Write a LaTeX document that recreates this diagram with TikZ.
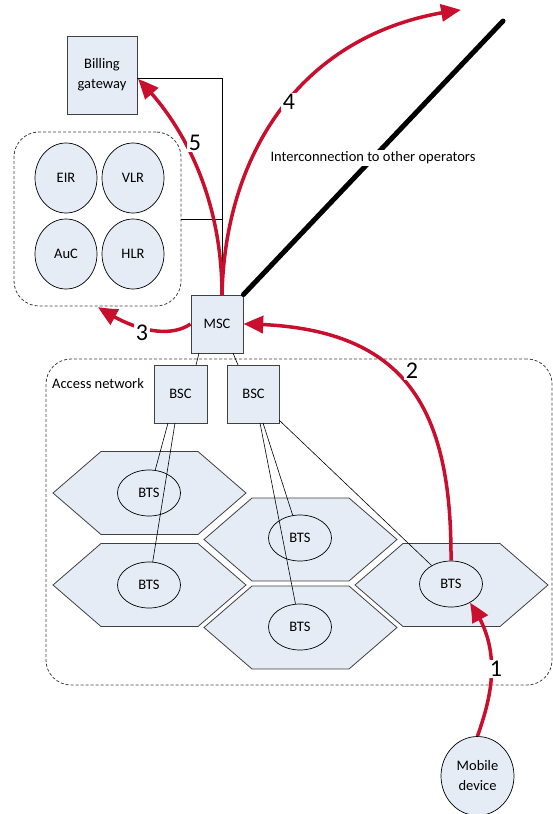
\documentclass[tikz,border=0pt]{standalone}
\usepackage{fontspec}
\setmainfont{Carlito}
\usetikzlibrary{arrows.meta,bending,shapes.geometric,calc}
\definecolor{boxfill}{HTML}{E6ECF6}
\definecolor{redarr}{HTML}{C8102E}
\definecolor{edge}{HTML}{404040}
\begin{document}
\begin{tikzpicture}[x=1pt,y=-1pt,
  every node/.style={font=\fontsize{14.5}{20}\selectfont},
  sq/.style={draw=edge,fill=boxfill,line width=0.9pt,inner sep=0pt,align=center},
  reg/.style={draw=black,fill=boxfill,ellipse,minimum width=62pt,minimum height=70pt,inner sep=0pt,line width=0.7pt},
  bts/.style={draw=black,fill=boxfill,ellipse,minimum width=63pt,minimum height=46pt,inner sep=0pt,line width=0.7pt},
  hexs/.style={draw=edge,fill=boxfill,line width=0.8pt},
  dbox/.style={draw=edge,dash pattern=on 3pt off 2pt,rounded corners=25pt,line width=0.8pt},
  wire/.style={draw=black,line width=0.6pt},
  flow/.style={draw=redarr,line width=3.5pt,-{Triangle[length=20pt,width=17pt,bend]}},
  num/.style={fill=white,inner sep=1.5pt,font=\fontsize{24}{24}\selectfont}
]
\useasboundingbox (0,0) rectangle (553,814);
% dashed groups
\node[dbox,minimum width=167pt,minimum height=174pt,inner sep=0pt] (regs) at (97.5,219) {};
\node[dbox,minimum width=506pt,minimum height=326pt,inner sep=0pt] (accnet) at (299,522) {};
\node[anchor=west,inner sep=0pt] (acclabel) at (52,384) {Access network};
% registers
\node[reg] (eir) at (66,178) {EIR};
\node[reg] (vlr) at (133,178) {VLR};
\node[reg] (auc) at (66,254) {AuC};
\node[reg] (hlr) at (133,254) {HLR};
% hexagons
\foreach \cx/\cy in {149.5/493, 149.5/585, 300.5/539.5, 300.5/627.5, 451.5/585}{
  \draw[hexs] (\cx-96.5,\cy) -- (\cx-48.5,\cy-41.5) -- (\cx+48.5,\cy-41.5) -- (\cx+96.5,\cy) -- (\cx+48.5,\cy+41.5) -- (\cx-48.5,\cy+41.5) -- cycle;
}
% BTS
\node[bts] (bts1) at (149,493) {BTS};
\node[bts] (bts2) at (149,585) {BTS};
\node[bts] (bts3) at (300,538) {BTS};
\node[bts] (bts4) at (300,627) {BTS};
\node[bts] (bts5) at (451,584) {BTS};
% boxes
\node[sq,minimum width=70pt,minimum height=78pt] (billing) at (102,75) {Billing\\gateway};
\node[sq,minimum width=52pt,minimum height=58pt] (msc) at (217,324) {MSC};
\node[sq,minimum width=53pt,minimum height=58pt] (bsc1) at (180.5,394) {BSC};
\node[sq,minimum width=52pt,minimum height=58pt] (bsc2) at (253.5,394) {BSC};
\node[draw=black,fill=boxfill,ellipse,minimum width=73pt,minimum height=79pt,inner sep=0pt,line width=0.7pt,align=center] (mobile) at (477.5,776) {Mobile\\device};
% helper coordinates
\coordinate (mtop) at (222,295);
\coordinate (bgtip) at (138,79);
\coordinate (regtip) at (98,307);
\coordinate (optip) at (461,10);
\coordinate (opend) at (503,21);
% thin wires
\draw[wire] ($(billing.east)+(0,3)$) -| (mtop);
\draw[wire] (regs.east) -- (mtop |- regs.east);
\draw[wire] (199,353) -- (196,365);
\draw[wire] (233,353) -- (238,365);
\draw[wire] (168,423) -- (bts1);
\draw[wire] (175,423) -- (bts2);
\draw[wire] (263,423) -- (bts3);
\draw[wire] (260,423) -- (bts4);
\draw[wire] (279,420) -- (bts5);
% interconnection
\draw[line width=5pt,line cap=round] (msc.north east) -- (opend);
\node[fill=white,inner sep=2pt] (inter) at (373,158) {Interconnection to other operators};
% red flows
\draw[flow] (mtop) .. controls (222,200) and (185,125) .. (bgtip);
\node[num] (n5) at (195,143) {5};
\draw[flow] (mtop) .. controls (225,150) and (305,28) .. (optip);
\node[num] (n4) at (289,102) {4};
\draw[flow] (msc.west) .. controls (170,338) and (135,332) .. (regtip);
\node[num] (n3) at (142,333) {3};
\draw[flow] (bts5.north) .. controls (452,400) and (400,325) .. (msc.east);
\node[num] (n2) at (412,371) {2};
\draw[flow] (mobile.north) .. controls (490,700) and (505,650) .. (bts5.-45);
\node[num] (n1) at (496,669) {1};
\end{tikzpicture}
\end{document}
